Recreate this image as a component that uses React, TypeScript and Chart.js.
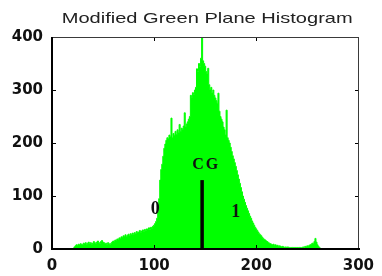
import React, { useEffect, useRef } from "react";
import { Chart, registerables } from "chart.js";

Chart.register(...registerables);

const TITLE = "Modified Green Plane Histogram";
const X_TICKS = [0, 100, 200, 300];
const Y_TICKS = [0, 100, 200, 300, 400];
const X_MAX = 300;
const Y_MAX = 400;

// histogram counts for grey levels starting at BIN_START
const BIN_START = 20;
const COUNTS = [
  0, 0, 4, 6, 8, 7, 9, 8, 10, 9, // 20-29
  8, 11, 10, 12, 9, 11, 13, 10, 12, 9, // 30-39
  11, 14, 12, 10, 13, 15, 12, 11, 14, 16, // 40-49
  13, 12, 10, 11, 9, 12, 10, 8, 11, 13, // 50-59
  15, 14, 17, 16, 19, 18, 21, 20, 23, 22, // 60-69
  25, 24, 27, 23, 26, 28, 25, 29, 27, 30, // 70-79
  28, 31, 29, 33, 30, 32, 35, 31, 34, 36, // 80-89
  33, 37, 35, 38, 36, 40, 37, 41, 39, 43, // 90-99
  45, 48, 52, 58, 70, 95, 130, 150, 160, 175, // 100-109
  190, 198, 205, 210, 208, 215, 212, 247, 210, 218, // 110-119
  214, 222, 216, 225, 220, 235, 222, 228, 226, 232, // 120-129
  257, 230, 236, 240, 245, 250, 290, 285, 295, 292, // 130-139
  300, 305, 340, 335, 350, 345, 360, 400, 355, 350, // 140-149
  345, 335, 330, 341, 310, 300, 305, 295, 300, 290, // 150-159
  285, 280, 275, 294, 260, 250, 245, 240, 230, 225, // 160-169
  215, 262, 210, 205, 200, 192, 184, 176, 170, 163, // 170-179
  156, 148, 140, 132, 124, 116, 108, 100, 94, 88, // 180-189
  82, 77, 72, 67, 62, 58, 53, 49, 45, 41, // 190-199
  38, 35, 32, 29, 27, 25, 22, 20, 18, 17, // 200-209
  15, 14, 12, 11, 10, 9, 8, 9, 7, 8, // 210-219
  6, 7, 5, 6, 5, 4, 5, 4, 3, 4, // 220-229
  3, 4, 3, 3, 2, 3, 3, 2, 3, 2, // 230-239
  3, 2, 3, 3, 2, 3, 4, 3, 5, 4, // 240-249
  6, 5, 7, 8, 9, 11, 10, 14, 20, 13, // 250-259
  8, 5, 3, 0, // 260-263
];

// centre of gravity marker
const CG_X = 147;
const CG_TOP = 130;

// text annotations (data coordinates)
const NOTE_TEXTS = ["0", "1", "CG"];
const NOTE_X = [101, 180, 151];
const NOTE_Y = [75, 70, 158];
const NOTE_SIZES = [18, 18, 16];

const GREEN = "#00ff00";

const overlayPlugin = {
  id: "overlay",
  afterDatasetsDraw(chart: any) {
    const { ctx, scales } = chart;
    const xs = scales.x;
    const ys = scales.y;
    ctx.save();
    // CG line
    const cx = xs.getPixelForValue(CG_X);
    const y0 = ys.getPixelForValue(0);
    const y1 = ys.getPixelForValue(CG_TOP);
    ctx.fillStyle = "#000";
    ctx.fillRect(cx - 1.75, y1, 3.5, y0 - y1);
    // notes
    ctx.fillStyle = "#111";
    ctx.textAlign = "center";
    ctx.textBaseline = "middle";
    NOTE_TEXTS.forEach((t, i) => {
      ctx.font = `bold ${NOTE_SIZES[i]}px "Liberation Serif", "DejaVu Serif", serif`;
      (ctx as any).letterSpacing = t === "CG" ? "2px" : "0px";
      ctx.fillText(t, xs.getPixelForValue(NOTE_X[i]), ys.getPixelForValue(NOTE_Y[i]));
    });
    (ctx as any).letterSpacing = "0px";
    ctx.restore();
  },
  afterDraw(chart: any) {
    const { ctx, chartArea, scales } = chart;
    const { left, right, top, bottom } = chartArea;
    const xs = scales.x;
    const ys = scales.y;
    ctx.save();
    const L = Math.round(left);
    const R = Math.round(right);
    const T = Math.round(top);
    const B = Math.round(bottom);
    // frame
    ctx.fillStyle = "#3a3a3a";
    ctx.fillRect(L, T, R - L + 1, 1); // top
    ctx.fillRect(R, T, 1, B - T); // right
    ctx.fillStyle = "#000";
    ctx.fillRect(L - 1, T, 2, B - T + 1); // left
    ctx.fillRect(L - 1, B - 1, R - L + 3, 2); // bottom
    // inward ticks
    const tl = 3;
    X_TICKS.slice(1, -1).forEach((v) => {
      const px = Math.round(xs.getPixelForValue(v));
      ctx.fillRect(px, B - 1 - tl, 1, tl);
      ctx.fillRect(px, T + 1, 1, tl);
    });
    Y_TICKS.slice(1, -1).forEach((v) => {
      const py = Math.round(ys.getPixelForValue(v));
      ctx.fillRect(L + 1, py, tl, 1);
      ctx.fillRect(R - tl, py, tl, 1);
    });
    // title
    ctx.fillStyle = "#222";
    ctx.font = `15px "Liberation Sans", Arial, sans-serif`;
    ctx.textAlign = "center";
    ctx.textBaseline = "middle";
    const cx = (left + right) / 2 + 2;
    const w = ctx.measureText(TITLE).width;
    const target = 291;
    ctx.translate(cx, 19);
    ctx.scale(target / w, 1);
    ctx.fillText(TITLE, 0, 0);
    ctx.restore();
  },
};

export default function App() {
  const ref = useRef<HTMLCanvasElement | null>(null);
  useEffect(() => {
    if (!ref.current) return;
    const points = COUNTS.map((c, i) => ({ x: BIN_START + i, y: c }));
    const tickFont = { family: '"DejaVu Sans", Arial, sans-serif', weight: "bold" as const, size: 15 };
    const chart = new Chart(ref.current, {
      type: "line",
      data: {
        datasets: [
          {
            data: points,
            stepped: "middle",
            fill: "origin",
            backgroundColor: GREEN,
            borderColor: GREEN,
            borderWidth: 1,
            pointRadius: 0,
          },
        ],
      },
      options: {
        responsive: false,
        animation: false,
        layout: { padding: { top: 37, right: 17, left: 0, bottom: 0 } },
        plugins: { legend: { display: false }, title: { display: false }, tooltip: { enabled: false } },
        scales: {
          x: {
            type: "linear",
            min: 0,
            max: X_MAX,
            afterFit: (s: any) => {
              s.height = 27;
            },
            afterBuildTicks: (s: any) => {
              s.ticks = X_TICKS.map((v) => ({ value: v }));
            },
            grid: { display: false, drawTicks: false },
            border: { display: false },
            ticks: { font: tickFont, color: "#111", padding: 8, maxRotation: 0 },
          },
          y: {
            type: "linear",
            min: 0,
            max: Y_MAX,
            afterFit: (s: any) => {
              s.width = 52;
            },
            afterBuildTicks: (s: any) => {
              s.ticks = Y_TICKS.map((v) => ({ value: v }));
            },
            grid: { display: false, drawTicks: false },
            border: { display: false },
            ticks: { font: tickFont, color: "#111", padding: 9 },
          },
        },
      },
      plugins: [overlayPlugin],
    });
    return () => chart.destroy();
  }, []);
  return (
    <div style={{ position: "fixed", left: 0, top: 0, width: 382, height: 276, background: "#fff" }}>
      <canvas ref={ref} width={382} height={276} />
    </div>
  );
}
